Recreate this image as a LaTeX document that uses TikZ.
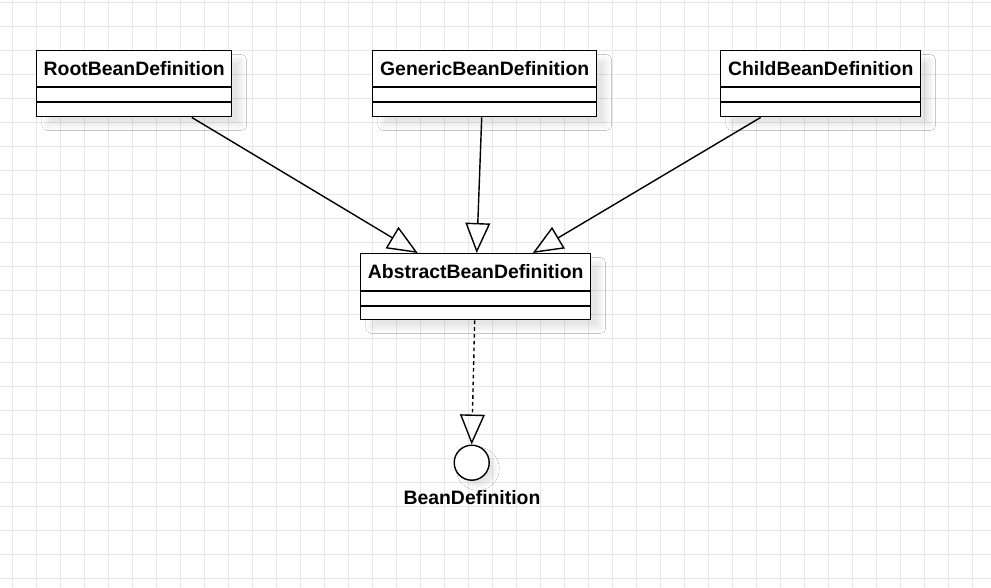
\documentclass[tikz,border=0pt]{standalone}
\usepackage{fontspec}
\setmainfont{Liberation Sans}
\usetikzlibrary{arrows.meta,shadows.blur}

\definecolor{gridgray}{RGB}{232,232,232}

\tikzset{
  classbox/.style={draw,line width=1pt,fill=white,anchor=north west,inner sep=0pt,
    blur shadow={shadow xshift=2.5mm,shadow yshift=-2.2mm,shadow opacity=10,
      shadow blur radius=1.2mm,shadow blur steps=10}},
  ifacecircle/.style={circle,draw,line width=1pt,fill=white,inner sep=0pt,minimum size=8.75mm,
    blur shadow={shadow xshift=1.5mm,shadow yshift=-1.5mm,shadow opacity=10,
      shadow blur radius=1mm,shadow blur steps=10}},
  classname/.style={font=\bfseries\fontsize{13.8}{16}\selectfont,inner sep=0pt},
  divider/.style={line width=1pt},
  inherit/.style={line width=1pt,-{Triangle[open,length=7.5mm,width=6.2mm]}},
  realize/.style={inherit,dash pattern=on 0.9mm off 0.8mm},
  gridline/.style={draw=gridgray,line width=0.7pt}
}

\begin{document}
\begin{tikzpicture}[x=0.25mm,y=-0.25mm]
  % background and grid
  \fill[white] (0,0) rectangle (991,587);
  \useasboundingbox (0,0) rectangle (991,587);
  \foreach \x in {0,...,40}
    \draw[gridline] (12.7+24*\x,0) -- (12.7+24*\x,587);
  \foreach \y in {0,...,24}
    \draw[gridline] (0,2.7+24*\y) -- (991,2.7+24*\y);

  % upper classes
  \node[classbox,minimum width=48.75mm,minimum height=16.5mm] (root) at (36,50) {};
  \node[classname] (rootname) at ([yshift=-4.6mm]root.north) {RootBeanDefinition};
  \draw[divider] ([yshift=-9.25mm]root.north west) -- ([yshift=-9.25mm]root.north east);
  \draw[divider] ([yshift=-13mm]root.north west) -- ([yshift=-13mm]root.north east);

  \node[classbox,minimum width=56mm,minimum height=16.5mm] (generic) at (372,50) {};
  \node[classname] (genericname) at ([yshift=-4.6mm]generic.north) {GenericBeanDefinition};
  \draw[divider] ([yshift=-9.25mm]generic.north west) -- ([yshift=-9.25mm]generic.north east);
  \draw[divider] ([yshift=-13mm]generic.north west) -- ([yshift=-13mm]generic.north east);

  \node[classbox,minimum width=50mm,minimum height=16.5mm] (child) at (720,50) {};
  \node[classname] (childname) at ([yshift=-4.6mm]child.north) {ChildBeanDefinition};
  \draw[divider] ([yshift=-9.25mm]child.north west) -- ([yshift=-9.25mm]child.north east);
  \draw[divider] ([yshift=-13mm]child.north west) -- ([yshift=-13mm]child.north east);

  % abstract class
  \node[classbox,minimum width=57.5mm,minimum height=16.5mm] (abs) at (360,253) {};
  \node[classname] (absname) at ([yshift=-4.7mm]abs.north) {AbstractBeanDefinition};
  \draw[divider] ([yshift=-9.5mm]abs.north west) -- ([yshift=-9.5mm]abs.north east);
  \draw[divider] ([yshift=-13.25mm]abs.north west) -- ([yshift=-13.25mm]abs.north east);

  % interface
  \node[ifacecircle] (bd) at (471.7,462.7) {};
  \node[classname] (bdname) at (472,497.5) {BeanDefinition};

  % generalisation
  \draw[inherit] ([xshift=14.4mm]root.south) -- ([xshift=-14.5mm]abs.north);
  \draw[inherit] ([xshift=-0.75mm]generic.south) -- ([xshift=0.25mm]abs.north);
  \draw[inherit] ([xshift=-15mm]child.south) -- ([xshift=14.25mm]abs.north);
  % realisation
  \draw[realize] ([xshift=-0.25mm]abs.south) -- (bd.north);

\end{tikzpicture}
\end{document}
